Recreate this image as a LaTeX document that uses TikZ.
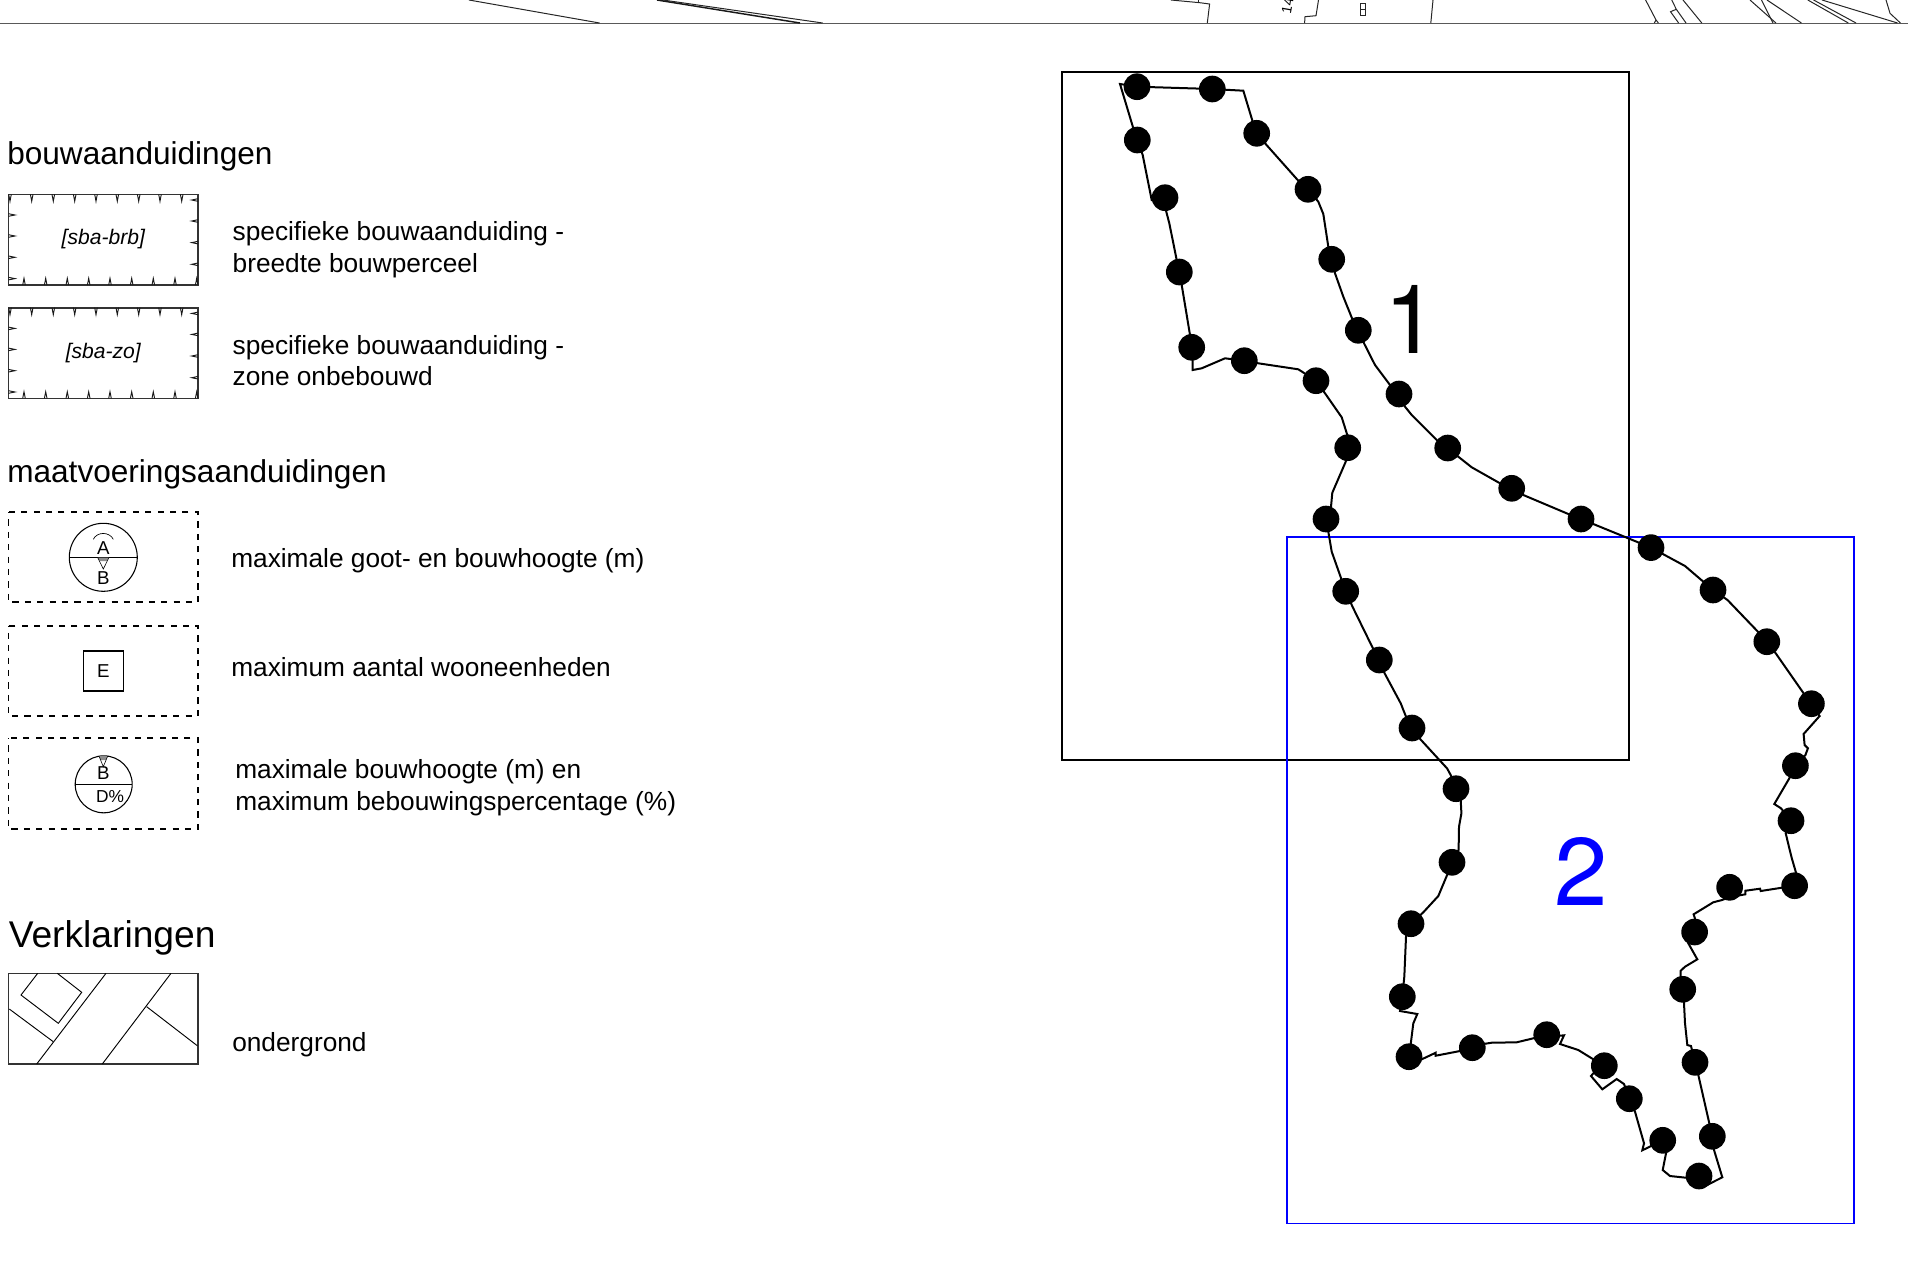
\documentclass[tikz,border=0pt]{standalone}
\usepackage{fontspec}
\setmainfont{Liberation Sans}
\newfontfamily\numfont{TeX Gyre Heros}
\tikzset{
  thinline/.style={line width=0.75pt,black!85},
  frameline/.style={line width=1.25pt,black},
  contour/.style={line width=1.5pt,black,line join=miter},
  pdot/.style={circle,fill=black,inner sep=0pt,minimum size=20pt},
  txt/.style={anchor=base west,inner sep=0pt,font=\fontsize{19.7pt}{24pt}\selectfont},
  head/.style={anchor=base west,inner sep=0pt,font=\fontsize{23.7pt}{28pt}\selectfont},
  sym/.style={inner sep=0pt,font=\fontsize{14pt}{16pt}\selectfont},
  dashbox/.style={line width=1.4pt,black,dash pattern=on 4.6pt off 4.7pt,dash phase=4pt},
  legbox/.style={line width=1.2pt,black!80},
  tick/.style={line width=0.7pt,black!90},
  greytip/.style={fill=black!45,draw=none}
}
\newcommand{\topticks}[1]{%
  \foreach \tx in {10,31.7,53.3,74.7,96,117.3,138.7,160,181.7}{\draw[tick] (\tx-1.3,#1)--(\tx,#1+7)--(\tx+1.3,#1);}
}
\begin{document}
\begin{tikzpicture}[x=0.75pt,y=-0.75pt]
\useasboundingbox (0,0) rectangle (1908,1261);
% cut-off map at the top
\draw[line width=1.3pt,black!65] (0,23.5)--(1908,23.5);
\draw[thinline] (469,0)--(599.5,23);
\draw[line width=1.1pt,black!90] (657,0)--(800,23);
\draw[thinline] (663,0)--(822.7,23);
\draw[thinline] (1171,0)--(1199.8,2.7)--(1209.6,4)--(1207.3,23);
\draw[thinline] (1198.6,0)--(1198.6,2.7);
\draw[thinline] (1318.5,0)--(1316,15.7)--(1305,16.7)--(1304.6,23);
\draw[thinline] (1360,3.3) rectangle (1365,15.7);
\draw[thinline] (1360,9)--(1365,9);
\draw[thinline] (1433,0)--(1430.8,23);
\draw[thinline] (1645.6,0)--(1656,20)--(1654.3,23);
\draw[thinline] (1656,20)--(1658.4,23);
\draw[thinline] (1671.7,0)--(1676.3,9.3)--(1670.5,11.7)--(1678.6,23);
\draw[thinline] (1676.3,9.3)--(1686,23);
\draw[thinline] (1683,0)--(1701.8,23);
\draw[thinline] (1750,0)--(1775.9,23);
\draw[thinline] (1761.5,0)--(1773,23);
\draw[thinline] (1767,0)--(1801.4,23);
\draw[thinline] (1807.8,0)--(1848.3,23);
\draw[thinline] (1813.6,0)--(1856,23);
\draw[thinline] (1822,0)--(1897.5,23);
\draw[thinline] (1886,0)--(1890,13.3)--(1900.4,23);
\node[rotate=80,inner sep=0pt,font=\fontsize{10.5pt}{12pt}\selectfont] (mapnum) at (1287.5,6) {14};
% legend headings
\node[head] (h1) at (7,164) {bouwaanduidingen};
\node[head] (h2) at (7,482) {maatvoeringsaanduidingen};
\node[anchor=base west,inner sep=0pt,font=\fontsize{27.9pt}{32pt}\selectfont] (h3) at (8.5,947) {Verklaringen};
% hatched boxes
\foreach \ty in {194.3,307.7}{
  \draw[legbox] (8.5,\ty) rectangle (198,\ty+90.7);
  \topticks{\ty}
  \foreach \tx in {24,45.7,67.3,88.7,110,131.7,153.3,175,196.7}{\draw[tick] (\tx-1.3,\ty+90.7)--(\tx,\ty+84)--(\tx+1.3,\ty+90.7);}
  \foreach \td in {5.7,26.7,48.3,70}{\draw[tick] (198,\td+\ty-1.3)--(191.7,\td+\ty)--(198,\td+\ty+1.3);}
  \foreach \td in {20.7,41.7,63,84.3}{\draw[tick] (8.5,\td+\ty-1.3)--(15,\td+\ty)--(8.5,\td+\ty+1.3);}
}
\node[inner sep=0pt,font=\itshape\fontsize{15.8pt}{18pt}\selectfont] (sba1) at (103.3,239.5) {[sba-brb]};
\node[inner sep=0pt,font=\itshape\fontsize{15.8pt}{18pt}\selectfont] (sba2) at (103.3,353.5) {[sba-zo]};
\node[txt] (t1a) at (232.4,240) {specifieke bouwaanduiding -};
\node[txt] (t1b) at (232.4,272) {breedte bouwperceel};
\node[txt] (t2a) at (232.4,354) {specifieke bouwaanduiding -};
\node[txt] (t2b) at (232.4,385.5) {zone onbebouwd};
% dashed boxes
\draw[dashbox] (8.5,512.3) rectangle (198,602.3);
\draw[dashbox] (8.5,625.7) rectangle (198,716);
\draw[dashbox] (8.5,738.3) rectangle (198,829.3);
% symbol 1
\draw[line width=0.8pt] (103.3,557.3) circle[radius=34];
\draw[line width=0.8pt] (69.3,557.3)--(137.3,557.3);
\node[sym] (symA) at (103.3,548) {A};
\node[sym] (symB) at (103.3,578) {B};
\draw[line width=0.5pt] (93.3,539.3) .. controls (97,531.5) and (109.5,531.5) .. (113.3,539.3);
\fill[greytip] (97.7,557.5)--(109,557.5)--(106.9,561)--(99.8,561)--cycle;
\draw[line width=0.45pt] (97.7,557.5)--(103.3,569)--(109,557.5);
% symbol 2
\node[draw,line width=0.8pt,minimum size=30pt,inner sep=0pt,font=\fontsize{14pt}{16pt}\selectfont] (symE) at (103.3,671) {E};
% symbol 3
\draw[line width=0.8pt] (103.7,784.3) circle[radius=28.5];
\draw[line width=0.8pt] (75.2,784.3)--(132.2,784.3);
\node[sym] (symB2) at (103.3,773) {B};
\node[sym,font=\fontsize{13pt}{16pt}\selectfont] (symD) at (110,796.7) {D\%};
\fill[greytip] (99,756)--(107.7,756)--(106.1,760)--(100.6,760)--cycle;
\draw[line width=0.45pt] (99,756)--(103.3,766.7)--(107.7,756);
\node[txt] (t3) at (231,567) {maximale goot- en bouwhoogte (m)};
\node[txt] (t4) at (231,676) {maximum aantal wooneenheden};
\node[txt] (t5a) at (235,778) {maximale bouwhoogte (m) en};
\node[txt] (t5b) at (235,810) {maximum bebouwingspercentage (\%)};
% ondergrond
\draw[legbox] (8.5,973.3) rectangle (198,1064);
\draw[line width=0.7pt] (37.7,973.3)--(21,995)--(58.3,1023.3)--(81.7,992.3)--(57.3,973.3);
\draw[line width=0.7pt] (106,973.3)--(36.7,1064);
\draw[line width=0.7pt] (9.3,1009)--(53.3,1041.7);
\draw[line width=0.7pt] (171,973.3)--(102.3,1064);
\draw[line width=0.7pt] (146.7,1006.7)--(197.3,1045.7);
\node[txt] (t6) at (232,1051) {ondergrond};
% frames
\draw[frameline] (1062,72) rectangle (1629,760);
\draw[frameline,blue] (1286.7,536.7) rectangle (1853.7,1223.5);
\node[inner sep=0pt,font=\numfont\fontsize{72pt}{80pt}\selectfont] (n1) at (1411,319) {1};
\node[inner sep=0pt,text=blue,font=\numfont\fontsize{72pt}{80pt}\selectfont] (n2) at (1581.5,871) {2};
% contour
\draw[contour] (1120,84)--(1137,86.7)--(1212.3,89)--(1243.3,90.7)--(1252.7,121.7)--(1256.7,133.3)--(1265,143.3)--(1298.3,180.7)--(1308,189.3)--(1318.3,201.7)--(1323.3,214)--(1328.3,246.7)--(1331.7,259.3)--(1335,273.3)--(1343.3,296.7)--(1352.7,320)--(1358.3,330.3)--(1364,343.3)--(1375,365)--(1390,385)--(1399,394)--(1405,406.7)--(1411.7,415)--(1436.7,440)--(1447.7,448)--(1458.3,456.7)--(1471.7,467.3)--(1500,483.3)--(1511.7,488.3)--(1523.3,495)--(1568.3,514)--(1581,519)--(1630,539)--(1651,547.6)--(1685,566)--(1713,590)--(1727.5,600)--(1757.9,631.7)--(1766.8,641.7)--(1775.7,653.3)--(1803.6,693.3)--(1811.4,703.7)--(1819.6,716)--(1803.6,734)--(1804.6,745)--(1807.9,748.3)--(1805.4,755)--(1795.4,765.7)--(1789.3,778.3)--(1774.3,804)--(1781,808.3)--(1791,820.7)--(1785.7,833.3)--(1789.3,848.3)--(1791.8,858.3)--(1796,872.7)--(1794.6,885.7)--(1760.7,891)--(1760,888.7)--(1745.4,890.7)--(1745.4,894.3)--(1729.6,897)--(1722,900)--(1713.2,902.3)--(1693.6,914.3)--(1695.4,920)--(1694.6,932)--(1688.3,943.3)--(1697.3,959.3)--(1685,966.7)--(1680.7,970.7)--(1680.7,978.3)--(1682.7,989.3)--(1684,1003.3)--(1685,1023.3)--(1687.3,1045)--(1691,1046)--(1695,1062.3)--(1698.3,1075)--(1709.3,1123.3)--(1712.3,1136.3)--(1714,1150)--(1722.3,1177.3)--(1705,1186)--(1699,1176)--(1686,1177.7)--(1670,1176)--(1662.7,1170)--(1666,1153.3)--(1662.7,1140.3)--(1642.3,1150.3)--(1644,1143.3)--(1635,1111.7)--(1629.3,1098.7)--(1624,1084)--(1616.7,1079)--(1602.3,1089.3)--(1591,1076)--(1593.3,1073.3)--(1604.3,1065.7)--(1591.7,1058.3)--(1578.3,1050)--(1560,1044)--(1564,1035.3)--(1556.7,1036)--(1546.7,1034.7)--(1533.3,1038.3)--(1516.7,1042.3)--(1491.7,1042.7)--(1483.3,1044)--(1472.3,1047.7)--(1460,1051)--(1435.7,1055.7)--(1435.7,1052.7)--(1421.7,1059.3)--(1409,1056.7)--(1410.7,1044)--(1413.3,1023.3)--(1417.3,1014)--(1400,1011)--(1402.3,996.7)--(1404.3,976.7)--(1406,936.7)--(1411,923.7)--(1423.3,912.3)--(1438.3,896)--(1445,880)--(1447.1,875)--(1452,862.3)--(1458.6,850)--(1459,826.7)--(1461.4,813.3)--(1460.7,800)--(1456,788.7)--(1450.7,775)--(1447,768.3)--(1420.4,739.3)--(1412,728)--(1406,716.7)--(1400.7,703.3)--(1384.6,673.3)--(1379.3,660)--(1372.9,648.3)--(1352.5,606.7)--(1345.7,591.3)--(1341.7,580)--(1331.7,551.7)--(1328.3,531.7)--(1326,519)--(1331,506.7)--(1332.3,492.7)--(1345.7,461.7)--(1347.7,447.7)--(1347.3,435)--(1341.7,417.3)--(1325,393.3)--(1316,380.7)--(1298.3,369.3)--(1258.3,363.3)--(1244.3,360.7)--(1225,358.3)--(1201.7,368.3)--(1192.7,370)--(1192.7,360)--(1191.7,347.3)--(1190,335)--(1181.7,285)--(1179.3,272)--(1176.7,260)--(1169.3,223.3)--(1166,210.7)--(1165,197.7)--(1151.7,200)--(1142.7,155)--(1137.3,140)--(1133.3,128.3)--cycle;
% dots
\foreach \px/\py in {1137/86.7,1212.3/89,1256.7/133.3,1308/189.3,1331.7/259.3,1358.3/330.3,1399/394,1447.7/448,1511.7/488.3,1581/519,1651/547.6,1713/590,1766.8/641.7,1811.4/703.7,1795.4/765.7,1791/820.7,1794.6/885.7,1729.6/887.3,1694.6/932,1682.7/989.3,1695/1062.3,1712.3/1136.3,1699/1176,1662.7/1140.3,1629.3/1098.7,1604.3/1065.7,1546.7/1034.7,1472.3/1047.7,1409/1056.7,1402.3/996.7,1411/923.7,1452/862.3,1456/788.7,1412/728,1379.3/660,1345.7/591.3,1326/519,1347.7/447.7,1316/380.7,1244.3/360.7,1191.7/347.3,1179.3/272,1165/197.7,1137.3/140}{
  \node[pdot] at (\px,\py) {};
}
\end{tikzpicture}
\end{document}
